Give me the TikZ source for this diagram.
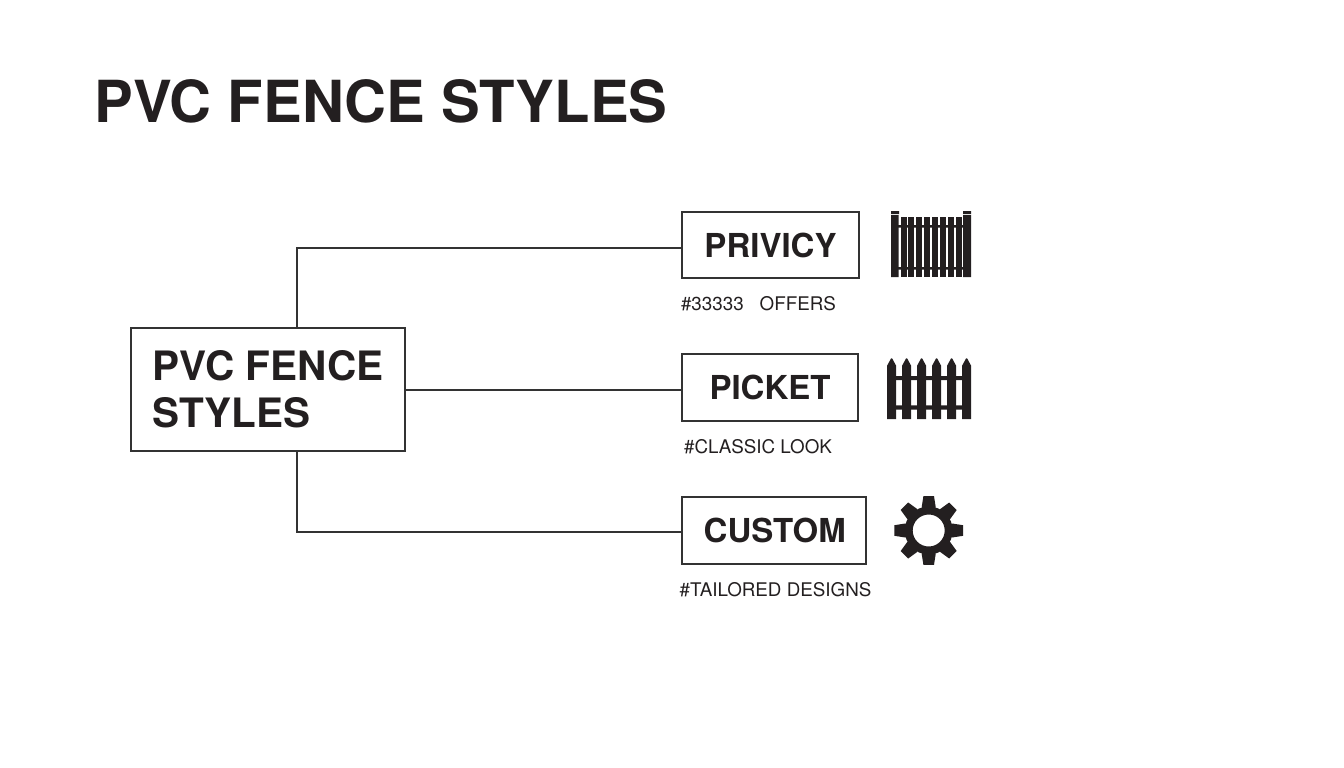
\documentclass[tikz,border=0pt]{standalone}
\usepackage{fontspec}
\setmainfont{TeX Gyre Heros}
\definecolor{ink}{HTML}{231F20}
\definecolor{wire}{HTML}{333333}
\tikzstyle{box} = [draw=wire,line width=1.5pt,inner sep=0pt,text=ink,font=\bfseries\fontsize{33}{40}\selectfont]
\tikzstyle{edge} = [draw=wire,line width=1.5pt]
\tikzstyle{tag} = [text=ink,inner sep=0pt,font=\fontsize{18.8}{24}\selectfont]
\begin{document}
\begin{tikzpicture}[x=1pt,y=-1pt]
	\useasboundingbox (0,0) rectangle (1344,768);
	\node[text=ink,inner sep=0pt,font=\bfseries\fontsize{58}{70}\selectfont] (title) at (381,101.5) {PVC FENCE STYLES};

	\node[box,minimum width=274pt,minimum height=123pt,align=left,font=\bfseries\fontsize{40.5}{47}\selectfont] (main) at (268,389.5) {PVC FENCE\\STYLES};
	\node[box,minimum width=177pt,minimum height=66pt] (privy) at (770.5,245) {PRIVICY};
	\node[box,minimum width=176pt,minimum height=67pt] (picket) at (770,387.5) {PICKET};
	\node[box,minimum width=184pt,minimum height=67pt] (custom) at (774,530.5) {\hspace{1.5pt}CUSTOM};

	\node[tag] (privytag) at (758.5,303.5) {\#33333\hspace{16pt}OFFERS};
	\node[tag] (pickettag) at (758,446.5) {\#CLASSIC LOOK};
	\node[tag] (customtag) at (775.5,590) {\#TAILORED DESIGNS};

	\coordinate (privyin) at (682,248);
	\coordinate (customin) at (682,532);
	\coordinate (mainup) at (297,328);
	\coordinate (maindown) at (297,451);
	\coordinate (mainright) at (405,390);
	\path[edge] (mainup) |- (privyin);
	\path[edge] (mainright) -- (mainright -| picket.west);
	\path[edge] (maindown) |- (customin);

	% privacy fence
	\fill[ink] (891,215) rectangle (898.5,277) (963,215) rectangle (971,277);
	\fill[ink] (891,211) rectangle (899,214) (963,211) rectangle (971,214);
	\foreach \x in {0,...,7}
		\fill[ink] (900.5+7.87*\x,217) rectangle (906.5+7.87*\x,277);
	\fill[ink] (898,225) rectangle (964,227.5) (898,267) rectangle (964,269.5);

	% picket fence
	\foreach \x in {0,...,5}
		\fill[ink] (887.2+15*\x,419) -- (887.2+15*\x,365.5) -- (891.1+15*\x,358.3) -- (892.1+15*\x,358.3) -- (896+15*\x,365.5) -- (896+15*\x,419) -- cycle;
	\fill[ink] (890,376) rectangle (968,380) (890,405.3) rectangle (968,409.7);

	% gear
	\begin{scope}[shift={(928.7,530.5)}]
		\fill[ink,even odd rule] (0,0) circle (24) (0,0) circle (16);
		\foreach \a in {0,45,...,315}
			\fill[ink,rotate=\a] (-7,-23.5) -- (-5.3,-34.3) -- (5.3,-34.3) -- (7,-23.5) -- (5,-18) -- (-5,-18) -- cycle;
	\end{scope}
\end{tikzpicture}
\end{document}
